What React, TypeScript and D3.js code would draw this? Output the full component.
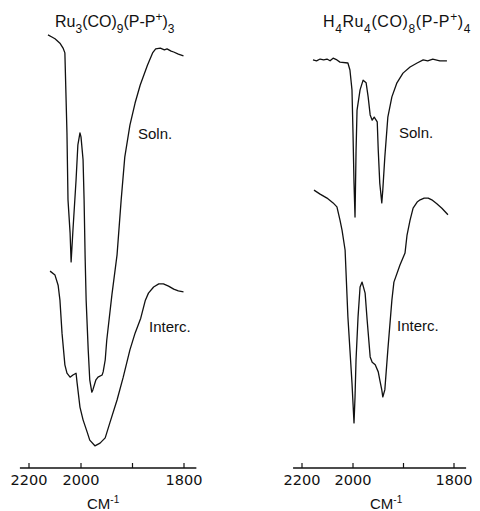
import React from "react";
import * as d3 from "d3";

// ---------- data (wavenumber cm-1, relative transmittance %) ----------
const leftTitle = { base: "Ru", parts: [["sub", "3"], ["n", "(CO)"], ["sub", "9"], ["n", "(P-P"], ["sup", "+"], ["n", ")"], ["sub", "3"]] };
const rightTitle = { base: "H", parts: [["sub", "4"], ["n", "Ru"], ["sub", "4"], ["n", "(CO)"], ["sub", "8"], ["n", "(P-P"], ["sup", "+"], ["n", ")"], ["sub", "4"]] };

const tickValues = [2200, 2000, 1900, 1800];
const tickLabels = ["2200", "2000", "", "1800"];
const axisExtent = [2235, 1776];

const leftSoln: [number, number][] = [
  [2127, 98.9], [2112, 98.4], [2100, 98.0], [2081, 97.0], [2069, 95.9], [2062, 94.8],
  [2054, 76.6], [2050, 61.4], [2042, 53.9], [2038, 47.3], [2031, 54.5], [2019, 65.9],
  [2012, 73.9], [2004, 76.6], [2000, 75.7], [1996, 70.5], [1994, 61.4], [1992, 48.4],
  [1990, 38.6], [1986, 27.3], [1983, 20.5], [1979, 17.7], [1977, 18.2], [1971, 20.5],
  [1967, 21.1], [1959, 21.6], [1957, 22.3], [1953, 25.0], [1950, 29.5], [1940, 39.8],
  [1930, 48.9], [1922, 61.4], [1915, 71.1], [1905, 78.4], [1895, 83.4], [1885, 87.5],
  [1871, 92.0], [1861, 94.8], [1855, 95.7], [1846, 95.9], [1838, 95.5], [1833, 95.7],
  [1825, 95.2], [1820, 95.0], [1811, 94.5], [1801, 94.1],
];

const leftInterc: [number, number][] = [
  [2119, 45.2], [2100, 44.3], [2088, 42.0], [2081, 38.6], [2073, 31.1], [2062, 23.9],
  [2054, 22.0], [2042, 21.1], [2031, 21.6], [2019, 22.0], [2015, 19.8], [2004, 14.3],
  [1996, 11.4], [1988, 8.6], [1983, 6.8], [1973, 5.5], [1963, 6.1], [1953, 7.3],
  [1944, 10.7], [1930, 15.9], [1918, 21.1], [1905, 27.3], [1895, 31.1], [1884, 34.5],
  [1875, 38.6], [1869, 40.2], [1859, 41.6], [1849, 42.3], [1840, 42.3], [1830, 41.8],
  [1820, 41.1], [1811, 40.7], [1801, 40.5],
];

const rightSoln: [number, number][] = [
  [2157, 93.2], [2143, 93.0], [2129, 93.4], [2115, 93.2], [2102, 93.4], [2090, 93.0],
  [2078, 93.6], [2063, 93.2], [2051, 92.7], [2020, 92.5], [2012, 90.9], [2004, 86.4],
  [2000, 76.6], [1998, 65.2], [1996, 57.5], [1994, 72.3], [1992, 81.8], [1986, 86.4],
  [1980, 88.6], [1974, 88.0], [1970, 84.8], [1966, 80.7], [1962, 79.5], [1958, 80.2],
  [1952, 79.1], [1950, 72.7], [1947, 65.2], [1943, 60.7], [1941, 63.6], [1937, 71.1],
  [1931, 80.2], [1923, 84.8], [1913, 88.0], [1901, 90.2], [1887, 91.6], [1873, 92.5],
  [1861, 93.2], [1852, 93.0], [1842, 93.4], [1828, 93.0], [1814, 93.0],
];

const rightInterc: [number, number][] = [
  [2153, 63.6], [2129, 62.7], [2102, 61.8], [2078, 60.7], [2063, 59.8], [2051, 56.8],
  [2043, 54.5], [2031, 50.0], [2020, 34.8], [2012, 27.3], [2004, 19.8], [2000, 15.2],
  [1998, 10.7], [1996, 16.6], [1994, 25.0], [1990, 34.8], [1986, 41.6], [1982, 42.7],
  [1976, 40.2], [1972, 34.1], [1966, 25.7], [1962, 24.5], [1956, 23.9], [1950, 22.3],
  [1947, 20.5], [1943, 18.2], [1941, 16.6], [1937, 18.2], [1931, 27.3], [1923, 38.6],
  [1919, 42.7], [1907, 46.6], [1897, 49.3], [1893, 53.4], [1887, 56.8], [1881, 59.5],
  [1873, 60.9], [1867, 61.4], [1859, 61.8], [1851, 61.8], [1844, 61.4], [1834, 60.5],
  [1824, 59.5], [1812, 58.0],
];

// ---------- layout ----------
const W = 480;
const H = 511;
const yScale = d3.scaleLinear().domain([0, 100]).range([470, 30]);
const axisY = 468;

const leftX = d3.scaleLinear().domain([2200, 2000, 1800]).range([29, 81, 184]);
const rightX = d3.scaleLinear().domain([2200, 2000, 1800]).range([302, 353, 454]);

const FONT = "'Liberation Sans', Arial, sans-serif";
const TICKFONT = "'DejaVu Sans', sans-serif";

function Title({ t, x, y, spacing }: { t: any; x: number; y: number; spacing: number }) {
  return (
    <text x={x} y={y} fontFamily={FONT} fontSize={16} fill="#111" letterSpacing={spacing}>
      {t.base}
      {t.parts.map((p: string[], i: number) => {
        const prev = i > 0 ? t.parts[i - 1][0] : "n";
        const shiftPrev = prev === "sub" ? -6 : prev === "sup" ? 6 : 0;
        const shift = p[0] === "sub" ? 6 : p[0] === "sup" ? -6 : 0;
        return (
          <tspan key={i} dy={shiftPrev + shift} fontSize={p[0] === "n" ? 16 : 12}>
            {p[1]}
          </tspan>
        );
      })}
    </text>
  );
}

function Panel({ x, soln, interc, title, titleX, titleSpacing, solnLabelX, intercLabelX, cmX, solnY, intercY }: any) {
  const line = d3
    .line<[number, number]>()
    .x((d) => x(d[0]))
    .y((d) => yScale(d[1]));
  return (
    <g>
      <Title t={title} x={titleX} y={27} spacing={titleSpacing} />
      <path d={line(soln) || ""} fill="none" stroke="#111" strokeWidth={1.3} strokeLinejoin="round" />
      <path d={line(interc) || ""} fill="none" stroke="#111" strokeWidth={1.3} strokeLinejoin="round" />
      <text x={solnLabelX} y={solnY} fontFamily={FONT} fontSize={15} fill="#111">Soln.</text>
      <text x={intercLabelX} y={intercY} fontFamily={FONT} fontSize={15} fill="#111">Interc.</text>
      <line x1={x(axisExtent[0])} x2={x(axisExtent[1])} y1={axisY} y2={axisY} stroke="#111" strokeWidth={1.6} />
      {tickValues.map((t, i) => (
        <g key={t}>
          <line x1={x(t)} x2={x(t)} y1={axisY - 5} y2={axisY} stroke="#111" strokeWidth={1.2} />
          {tickLabels[i] && (
            <text x={x(t)} y={485} textAnchor="middle" fontFamily={TICKFONT} fontSize={14.5} fill="#111">
              {tickLabels[i]}
            </text>
          )}
        </g>
      ))}
      <text x={cmX} y={509} fontFamily={FONT} fontSize={15} fill="#111">
        CM<tspan dy={-6} fontSize={10}>-1</tspan>
      </text>
    </g>
  );
}

export default function App() {
  return (
    <svg
      width={W}
      height={H}
      viewBox={`0 0 ${W} ${H}`}
      style={{ position: "absolute", left: 0, top: 0, background: "#fff" }}
    >
      <rect width={W} height={H} fill="#fff" />
      <Panel
        x={leftX}
        soln={leftSoln}
        interc={leftInterc}
        title={leftTitle}
        titleX={55}
        titleSpacing={0}
        solnLabelX={138}
        intercLabelX={149}
        solnY={139}
        intercY={332}
        cmX={87}
      />
      <Panel
        x={rightX}
        soln={rightSoln}
        interc={rightInterc}
        title={rightTitle}
        titleX={323}
        titleSpacing={0.6}
        solnLabelX={399}
        intercLabelX={397}
        solnY={138}
        intercY={331}
        cmX={370}
      />
    </svg>
  );
}
